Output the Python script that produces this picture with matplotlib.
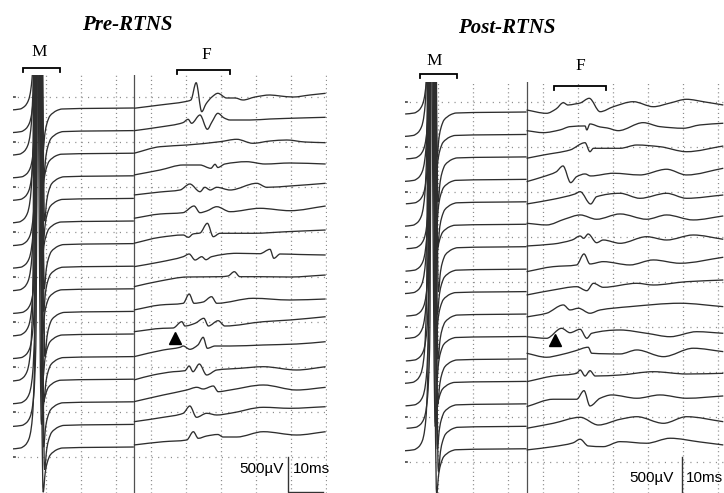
import matplotlib
matplotlib.use("Agg")
import matplotlib.pyplot as plt
from matplotlib.path import Path
from matplotlib.patches import PathPatch

# ---------------- data (time in ms, amplitude in display units: 35 units = 500 uV) -------------
# common M-wave template (time ms, amplitude)
M_T = [0.0, 2.6, 4.0, 4.9, 5.4, 6.0, 6.6, 7.4, 9.1, 9.7, 10.3, 11.1, 12.0, 13.1, 14.6]
M_A = [-1, 0, 3, 8, 14, 30, 80, 600, -44, -24, -14, -7, -4, -1.5, 0]
M_END_A = 1.0
PRE_M_JITTER = [0.0, 0.3, -0.2, 0.5, 0.1, -0.3, 0.4, 0.2, -0.1, 0.6, 0.0, 0.3, -0.4, 0.2, 0.5, 0.1]
POST_M_JITTER = [0.1, -0.2, 0.4, 0.0, 0.3, -0.3, 0.5, 0.2, -0.1, 0.4, 0.0, 0.3, -0.4, 0.2, 0.5, 0.0]
POST_M_SHIFT = 0.6

PRE_F_T = [
    [35.1, 42.6, 49.7, 51.4, 52.9, 54.5, 55.7, 57.4, 59.1, 61.6, 64.0, 66.3, 69.7, 74.0, 76.9, 80.6, 85.4, 89.9],
    [35.1, 42.6, 49.1, 50.6, 51.6, 54.0, 56.1, 57.4, 59.1, 60.9, 62.6, 68.3, 74.0, 82.6, 89.9],
    [35.1, 42.6, 50.3, 59.7, 64.5, 69.1, 74.0, 78.8, 84.0, 89.9],
    [35.1, 42.6, 49.2, 54.0, 57.1, 58.3, 59.1, 61.1, 67.3, 72.6, 79.7, 89.9],
    [35.1, 42.6, 48.3, 51.1, 54.0, 55.4, 56.9, 58.8, 62.6, 70.2, 73.1, 79.7, 89.9],
    [35.1, 42.6, 49.1, 52.3, 54.0, 55.9, 58.8, 62.6, 71.1, 79.7, 89.9],
    [35.1, 42.6, 49.2, 50.7, 52.0, 54.0, 56.1, 57.8, 59.7, 69.2, 78.8, 89.9],
    [35.1, 42.6, 49.2, 50.9, 52.6, 54.5, 55.7, 57.3, 64.5, 71.1, 74.0, 75.1, 76.9, 82.6, 89.9],
    [35.1, 42.6, 50.3, 59.7, 62.0, 63.8, 65.4, 71.1, 79.7, 89.9],
    [35.1, 42.6, 49.2, 50.9, 52.3, 54.9, 57.3, 58.8, 69.2, 79.7, 89.9],
    [35.1, 43.4, 46.3, 48.8, 49.7, 52.6, 55.1, 56.4, 59.2, 61.1, 72.1, 79.7, 89.9],
    [35.1, 43.5, 48.3, 49.2, 51.1, 53.4, 54.9, 56.1, 58.3, 62.6, 72.0, 81.6, 89.9],
    [35.1, 40.6, 46.4, 49.7, 50.9, 52.0, 53.8, 55.9, 58.8, 65.4, 72.1, 81.6, 89.9],
    [35.1, 43.5, 50.2, 53.1, 54.9, 57.8, 59.2, 62.6, 72.1, 81.6, 89.9],
    [35.1, 43.5, 49.2, 51.1, 53.0, 55.9, 58.8, 62.6, 72.1, 79.7, 89.9],
    [35.1, 43.5, 50.2, 52.1, 53.5, 55.9, 59.1, 60.6, 64.5, 72.1, 81.6, 89.9],
]
PRE_F_A = [
    [0.7, 4, 7.3, 9, 26.3, -2.7, 5, 12, 15.7, 11, 11, 9, 12, 14, 13, 12, 14, 15.7],
    [0.9, 4.6, 8.9, 12.3, 8.3, 16.6, 2.3, 9.6, 18.3, 13.6, 11.6, 11.6, 12.6, 13.6, 14.3],
    [0.9, 7.5, 9.2, 12.5, 14.9, 10.9, 13.2, 14.2, 12.2, 11.5],
    [1.8, 6.8, 11.8, 11.8, 8.5, 12.5, 9.3, 12.8, 15.1, 12.8, 13.8, 12.8],
    [4.4, 7.4, 9.4, 15.4, 7.7, 12.1, 9.4, 12.1, 9.4, 16.1, 12.1, 13.4, 16.1],
    [3.7, 8, 9.3, 16, 9.3, 11, 15.3, 10.3, 13.7, 11.3, 16],
    [1.3, 7.3, 9.6, 7.3, 10.6, 11.6, 21.3, 7.9, 11.3, 11.3, 12.9, 14.6],
    [0.5, 5.2, 10.5, 13.2, 7.2, 10.5, 7.5, 10.5, 13.9, 13.5, 17.9, 8.9, 13.2, 12.7, 12.2],
    [3.1, 8.8, 12.8, 13.1, 13.8, 18.1, 13.1, 13.1, 12.8, 14.8],
    [2.4, 7.4, 9.1, 18.4, 9.1, 10.4, 15.7, 9.1, 14.1, 12.4, 13.4],
    [3.3, 6.7, 7, 13.3, 9, 11.7, 16.7, 9, 14.3, 9, 13.3, 15, 18.3],
    [0.9, 7.6, 10.3, 11.6, 8.3, 12.6, 20.3, 9.3, 11.6, 11.6, 12.6, 13.6, 15.9],
    [0.2, 5.2, 8.5, 9.5, 14.2, 8.5, 16.2, 5.2, 10.2, 11.9, 13.5, 10.2, 13.5],
    [1.1, 7.8, 12.8, 15.5, 13.8, 16.8, 11.1, 12.8, 17.8, 12.8, 15.5],
    [3.7, 8.1, 12.1, 19.4, 8.1, 12.1, 10.4, 12.1, 18.1, 17.1, 18.7],
    [3, 6.3, 8, 16.3, 9.7, 12, 13.5, 11, 11, 16.3, 13, 16.3],
]

POST_F_T = [
    [35.4, 41.1, 43.8, 45.9, 47.2, 49.2, 50.7, 53.3, 56.4, 60.2, 65.9, 71.6, 76.4, 81.1, 86.4, 91.6],
    [35.4, 40.2, 44.9, 47.8, 52.1, 52.6, 53.5, 56.4, 58.4, 61.6, 68.7, 73.5, 80.2, 84.9, 91.6],
    [35.4, 40.2, 47.8, 52.1, 53.5, 54.5, 62.1, 66.9, 73.5, 81.1, 91.6],
    [35.4, 40.2, 43.8, 45.8, 48.0, 49.7, 52.1, 53.7, 60.2, 67.8, 75.4, 81.1, 91.6],
    [35.4, 43.0, 49.2, 50.7, 53.7, 55.4, 62.1, 67.8, 75.4, 81.1, 91.6],
    [35.4, 41.1, 46.4, 50.7, 55.4, 62.1, 69.7, 75.4, 83.0, 91.6],
    [35.4, 43.0, 48.4, 50.7, 51.7, 53.0, 55.4, 57.3, 62.1, 69.7, 75.4, 83.0, 91.6],
    [35.4, 43.0, 49.7, 51.8, 53.5, 57.3, 64.9, 71.6, 79.2, 91.6],
    [35.4, 43.0, 49.7, 52.6, 54.5, 57.3, 66.9, 71.6, 81.1, 91.6],
    [35.4, 41.1, 45.9, 47.8, 50.2, 53.5, 56.4, 64.9, 79.2, 91.6],
    [35.4, 41.1, 45.4, 47.8, 50.7, 52.6, 54.0, 62.1, 69.7, 76.4, 84.0, 91.6],
    [35.4, 41.1, 44.9, 49.2, 53.0, 54.0, 62.1, 66.9, 74.5, 83.0, 91.6],
    [35.4, 43.0, 49.7, 50.7, 52.1, 53.5, 55.0, 62.1, 71.6, 81.1, 91.6],
    [35.4, 43.0, 49.7, 51.8, 53.5, 56.4, 59.7, 66.9, 73.5, 81.1, 91.6],
    [35.4, 43.0, 50.7, 55.9, 62.1, 66.9, 74.5, 81.1, 91.6],
    [35.4, 43.0, 48.6, 50.7, 53.0, 57.3, 62.1, 69.7, 76.4, 84.9, 91.6],
]
POST_F_A = [
    [3, -0.3, 4, 10.3, 8, 9, 10, 14.7, 1.3, 6.3, 11.3, 6.3, 10, 13.7, 11, 8],
    [4.8, 2.8, 5.5, 8.8, 9.5, 5.5, 11.5, 8.5, 7.5, 4.8, 12.8, 8.8, 7.2, 10.5, 12.2],
    [-0.4, 2.9, 7.9, 15.2, 6.2, 9.6, 9.6, 12.9, 11.2, 6.2, 11.9],
    [-1.3, 3.7, 8.4, 14.4, -2.3, 3.7, 6.4, 4.4, 7.1, 5.4, 11.1, 5.4, 12.1],
    [-1.2, 3.5, 8.8, 11.1, -1.2, 6.1, 9.5, 4.5, 9.5, 4.5, 7.8],
    [2, 0.3, 6.3, 10.3, 6, 11.3, 6, 10.3, 5.3, 9.3],
    [1.7, 3.7, 7.7, 11.7, 9.4, 13.7, 5, 7.7, 4.4, 11, 7.7, 12.7, 8.4],
    [-1.5, 3.5, 5.2, 16.2, 6.2, 8.5, 5.2, 10.2, 6.9, 12.9],
    [-2.4, 2.6, 5.9, 1.9, 9.3, 5.3, 9.3, 7.6, 10.9, 12.6],
    [-1.9, 1.8, 10.1, 5.1, 6.8, 1.8, 5.1, 8.4, 11.8, 8.4],
    [0.8, -0.8, 9.2, 4.8, 8.2, -0.8, 4.2, 7.5, 4.2, 0.8, 5.8, 4.2],
    [6.7, 2.7, 5, 9, 12.7, 6.7, 6, 10, 3.3, 11.7, 8.3],
    [0.7, 6.4, 9.1, 12.4, 6.4, 11.7, 6.4, 7.4, 10.7, 8.4, 9.1],
    [-1.8, 5.6, 5.6, 14.2, -1.1, 6.6, 9.9, 6.6, 9.9, 6.6, 8.9],
    [-1, 4, 10, 2.3, 8, 10.6, 4, 10.6, 5.6],
    [-0.2, 3.1, 6.8, 10.5, 3.8, 3.1, 8.1, 6.5, 11.5, 7.8, 4.8],
]

TITLES = ["Pre-RTNS", "Post-RTNS"]
ARROW_T = [46.9, 43.5]          # ms, position of the arrowhead marker
ARROW_TRACE = [10, 10]          # trace index the marker sits under
SCALE_MS = 10
SCALE_UV = 500
UV_PER_UNIT = 500 / 35.0

# ---------------- layout ----------------
W, H = 724, 493
PX_PER_MS = 3.5
fig = plt.figure(figsize=(W / 100, H / 100), dpi=100)


def px_axes(x0, y0, x1, y1):
    return fig.add_axes([x0 / W, 1 - y1 / H, (x1 - x0) / W, (y1 - y0) / H])


def smooth_path(xs, ys):
    """Smooth (monotone cubic) drawing of a polyline through the given points."""
    n = len(xs)
    h = [xs[i + 1] - xs[i] for i in range(n - 1)]
    d = [(ys[i + 1] - ys[i]) / h[i] for i in range(n - 1)]
    m = [0.0] * n
    m[0], m[-1] = d[0], d[-1]
    for i in range(1, n - 1):
        if d[i - 1] * d[i] <= 0:
            m[i] = 0.0
        else:
            w1 = 2 * h[i] + h[i - 1]
            w2 = h[i] + 2 * h[i - 1]
            m[i] = (w1 + w2) / (w1 / d[i - 1] + w2 / d[i])
    verts = [(xs[0], ys[0])]
    codes = [Path.MOVETO]
    for i in range(n - 1):
        verts += [(xs[i] + h[i] / 3, ys[i] + m[i] * h[i] / 3),
                  (xs[i + 1] - h[i] / 3, ys[i + 1] - m[i + 1] * h[i] / 3),
                  (xs[i + 1], ys[i + 1])]
        codes += [Path.CURVE4] * 3
    return Path(verts, codes)


panels = [
    dict(box=(13, 75, 327, 493), x0=11.0, sep=35.1, first=109.0, step=22.6, row0=97,
         F_T=PRE_F_T, F_A=PRE_F_A, jit=PRE_M_JITTER, shift=0.0),
    dict(box=(405, 82, 724, 493), x0=402.7, sep=35.4, first=113.0, step=22.45, row0=102,
         F_T=POST_F_T, F_A=POST_F_A, jit=POST_M_JITTER, shift=POST_M_SHIFT),
]

TRACE_COLOR = "#2e2e2e"
GRID_COLOR = "#8c8c8c"
axes = []
for p in panels:
    bx0, by0, bx1, by1 = p["box"]
    ax = px_axes(bx0, by0, bx1, by1)
    ax.set_xlim((bx0 - p["x0"]) / PX_PER_MS, (bx1 - p["x0"]) / PX_PER_MS)
    ax.set_ylim(-by1, -by0)
    ax.axis("off")
    # dotted grid
    for k in range(1, 10):
        ax.plot([10 * k, 10 * k], [-by1, -by0], color=GRID_COLOR, lw=0.9,
                ls=(0, (0.9, 2.4)), zorder=1)
    for k in range(9):
        yy = -(p["row0"] + 45 * k)
        ax.plot([0, 100], [yy, yy], color=GRID_COLOR, lw=0.9, ls=(0, (0.9, 4.2)), zorder=1)
        ax.plot([0, 1.2], [yy, yy], color="#444444", lw=1.2, zorder=1)
    # separator
    ax.plot([p["sep"], p["sep"]], [-by1, -by0], color="#505050", lw=0.9, zorder=2)
    # traces
    for i in range(16):
        base = -(p["first"] + p["step"] * i)
        tm = [t + p["shift"] + p["jit"][i] for t in M_T] + [p["sep"]]
        am = [base + a for a in M_A] + [base + M_END_A]
        ax.add_patch(PathPatch(smooth_path(tm, am), fill=False, ec=TRACE_COLOR, lw=0.95,
                               zorder=3, joinstyle="round"))
        tf = p["F_T"][i]
        af = [base + a for a in p["F_A"][i]]
        ax.add_patch(PathPatch(smooth_path(tf, af), fill=False, ec=TRACE_COLOR, lw=0.95,
                               zorder=3, joinstyle="round"))
    axes.append(ax)

# arrowheads
for ax, p, t, ti in zip(axes, panels, ARROW_T, ARROW_TRACE):
    base = -(p["first"] + p["step"] * ti)
    ax.plot(t, base - 2.5, marker="^", ms=8.5, color="black", zorder=5)

# scale bars
sb = axes[0]
sb_t = 79.2
sb.plot([sb_t, sb_t, sb_t + SCALE_MS], [-457, -457 - SCALE_UV / UV_PER_UNIT, -457 - SCALE_UV / UV_PER_UNIT],
        color="#333333", lw=1.0, zorder=4, clip_on=False)
sb2 = axes[1]
sb2_t = 79.9
sb2.plot([sb2_t, sb2_t], [-457, -457 - SCALE_UV / UV_PER_UNIT], color="#333333", lw=1.0, zorder=4)

# overlay for labels
ov = fig.add_axes([0, 0, 1, 1], zorder=10)
ov.set_xlim(0, W)
ov.set_ylim(H, 0)
ov.axis("off")
ov.patch.set_alpha(0)

serif = ["Liberation Serif", "DejaVu Serif"]
sans = ["Liberation Sans", "DejaVu Sans"]
ov.text(127, 25, TITLES[0], ha="center", va="center", family=serif, weight="bold",
        style="italic", fontsize=15)
ov.text(507, 28, TITLES[1], ha="center", va="center", family=serif, weight="bold",
        style="italic", fontsize=15)

for (lab, cx, cy, bx0, bx1, by, dy) in [
    ("M", 39, 52.5, 23.3, 60, 68.3, 3.5),
    ("F", 206, 55, 177, 230, 69.5, 4),
    ("M", 434, 61, 420, 457, 74, 4),
    ("F", 580, 66, 554, 606, 85.5, 4),
]:
    ov.text(cx, cy, lab, ha="center", va="center", family=serif, fontsize=12.5)
    ov.plot([bx0, bx0, bx1, bx1], [by + dy, by, by, by + dy], color="black", lw=1.3,
            solid_joinstyle="miter")

ov.text(283.5, 469, "500µV", ha="right", va="center", family=sans, fontsize=11)
ov.text(292.5, 469, "10ms", ha="left", va="center", family=sans, fontsize=11)
ov.text(674, 478, "500µV", ha="right", va="center", family=sans, fontsize=11)
ov.text(686, 478, "10ms", ha="left", va="center", family=sans, fontsize=11)

fig.savefig("out.png", dpi=100, facecolor="white")
